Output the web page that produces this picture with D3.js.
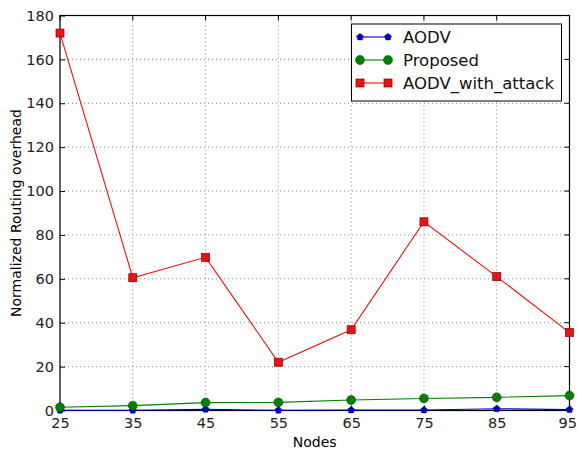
<!DOCTYPE html>
<html>
<head>
<meta charset="UTF-8">
<title>Routing overhead</title>
<script src="https://cdn.jsdelivr.net/npm/d3@7"></script>
<style>
  body { margin: 0; background: #fff; overflow: hidden; }
  svg { display: block; }
  text { font-family: "DejaVu Sans", sans-serif; }
</style>
</head>
<body>
<div id="chart"></div>
<script>
var nodes = [25, 35, 45, 55, 65, 75, 85, 95];
var aodv = [0.1, 0.1, 0.5, 0.1, 0.2, 0.2, 0.8, 0.4];
var proposed = [1.5, 2.2, 3.6, 3.7, 4.8, 5.5, 6.0, 6.8];
var attack = [172, 60.5, 69.8, 22, 36.8, 86, 61, 35.5];
var yTicks = [0, 20, 40, 60, 80, 100, 120, 140, 160, 180];

var W = 577, H = 450;
var m = {left: 60, right: 7.5, top: 15.5, bottom: 39.5};

var svg = d3.select("#chart").append("svg")
    .attr("width", W).attr("height", H);

var x = d3.scaleLinear().domain([25, 95]).range([m.left, W - m.right]);
var y = d3.scaleLinear().domain([0, 180]).range([H - m.bottom, m.top]);

// grid
var grid = svg.append("g");
grid.selectAll("line.gx").data(nodes).enter().append("line")
    .attr("x1", d => x(d)).attr("x2", d => x(d))
    .attr("y1", y(0)).attr("y2", y(180))
    .attr("stroke", "#888").attr("stroke-dasharray", "1,3");
grid.selectAll("line.gy").data(yTicks).enter().append("line")
    .attr("y1", d => y(d)).attr("y2", d => y(d))
    .attr("x1", x(25)).attr("x2", x(95))
    .attr("stroke", "#888").attr("stroke-dasharray", "1,3");

// axes, ticks inward
var xAxis = svg.append("g").attr("transform", "translate(0," + y(0) + ")")
    .call(d3.axisBottom(x).tickValues(nodes).tickSizeInner(-5).tickSizeOuter(0).tickPadding(7));
var yAxis = svg.append("g").attr("transform", "translate(" + x(25) + ",0)")
    .call(d3.axisLeft(y).tickValues(yTicks).tickSizeInner(-5).tickSizeOuter(0).tickPadding(6));
[xAxis, yAxis].forEach(function(a) {
    a.selectAll("text").style("font-size", "14.5px").attr("fill", "#222");
    a.select(".domain").remove();
});
// last x label sits against the right edge
xAxis.selectAll(".tick").filter(d => d === 95).select("text")
    .attr("text-anchor", "end").attr("x", W - x(95) - 0.5);

// top/right ticks
svg.append("g").selectAll("line").data(nodes).enter().append("line")
    .attr("x1", d => x(d)).attr("x2", d => x(d))
    .attr("y1", y(180)).attr("y2", y(180) + 5).attr("stroke", "#000");
svg.append("g").selectAll("line").data(yTicks).enter().append("line")
    .attr("y1", d => y(d)).attr("y2", d => y(d))
    .attr("x1", x(95)).attr("x2", x(95) - 5).attr("stroke", "#000");

svg.append("rect")
    .attr("x", x(25)).attr("y", y(180))
    .attr("width", x(95) - x(25)).attr("height", y(0) - y(180))
    .attr("fill", "none").attr("stroke", "#000").attr("stroke-width", 1.2);

var series = [
    {name: "AODV", vals: aodv, color: "#0000cc", marker: "pent"},
    {name: "Proposed", vals: proposed, color: "#008000", marker: "circle"},
    {name: "AODV_with_attack", vals: attack, color: "#ee1111", marker: "square"}
];

var line = d3.line();
function drawMarker(g, s, px, py) {
    if (s.marker === "circle") {
        g.append("circle").attr("cx", px).attr("cy", py).attr("r", 4.5)
            .attr("fill", s.color).attr("stroke", "#004000").attr("stroke-width", 0.5);
    } else if (s.marker === "square") {
        g.append("rect").attr("x", px - 4).attr("y", py - 4).attr("width", 8).attr("height", 8)
            .attr("fill", s.color).attr("stroke", "#800000").attr("stroke-width", 0.7);
    } else {
        var r = 3.6, pts = [];
        for (var k = 0; k < 5; k++) {
            var a = -Math.PI / 2 + k * 2 * Math.PI / 5;
            pts.push([px + r * Math.cos(a), py + r * Math.sin(a)]);
        }
        g.append("path").attr("d", d3.line()(pts) + "Z")
            .attr("fill", s.color).attr("stroke", "#000080").attr("stroke-width", 0.5);
    }
}

var plot = svg.append("g");
series.forEach(function(s) {
    var pts = s.vals.map((v, i) => [x(nodes[i]), y(v)]);
    plot.append("path").attr("d", line(pts)).attr("fill", "none")
        .attr("stroke", s.color).attr("stroke-width", 1.1);
    pts.forEach(p => drawMarker(plot, s, p[0], p[1]));
});

// legend
var lg = svg.append("g");
lg.append("rect").attr("x", 351.5).attr("y", 24).attr("width", 210).attr("height", 77)
    .attr("fill", "#fff").attr("stroke", "#000").attr("stroke-width", 1);
series.forEach(function(s, i) {
    var ly = 37 + i * 23;
    lg.append("line").attr("x1", 360).attr("x2", 388).attr("y1", ly).attr("y2", ly)
        .attr("stroke", s.color).attr("stroke-width", 1.1);
    drawMarker(lg, s, 360, ly);
    drawMarker(lg, s, 388, ly);
    lg.append("text").attr("x", 403).attr("y", ly).attr("dy", "0.35em")
        .style("font-size", "16.5px").attr("fill", "#111").text(s.name);
});

svg.append("text").attr("x", (x(25) + x(95)) / 2).attr("y", 447)
    .attr("text-anchor", "middle").style("font-size", "14px").text("Nodes");
svg.append("text").attr("transform", "translate(21," + ((y(0) + y(180)) / 2) + ") rotate(-90)")
    .attr("text-anchor", "middle").style("font-size", "14px").text("Normalized Routing overhead");
</script>
</body>
</html>
